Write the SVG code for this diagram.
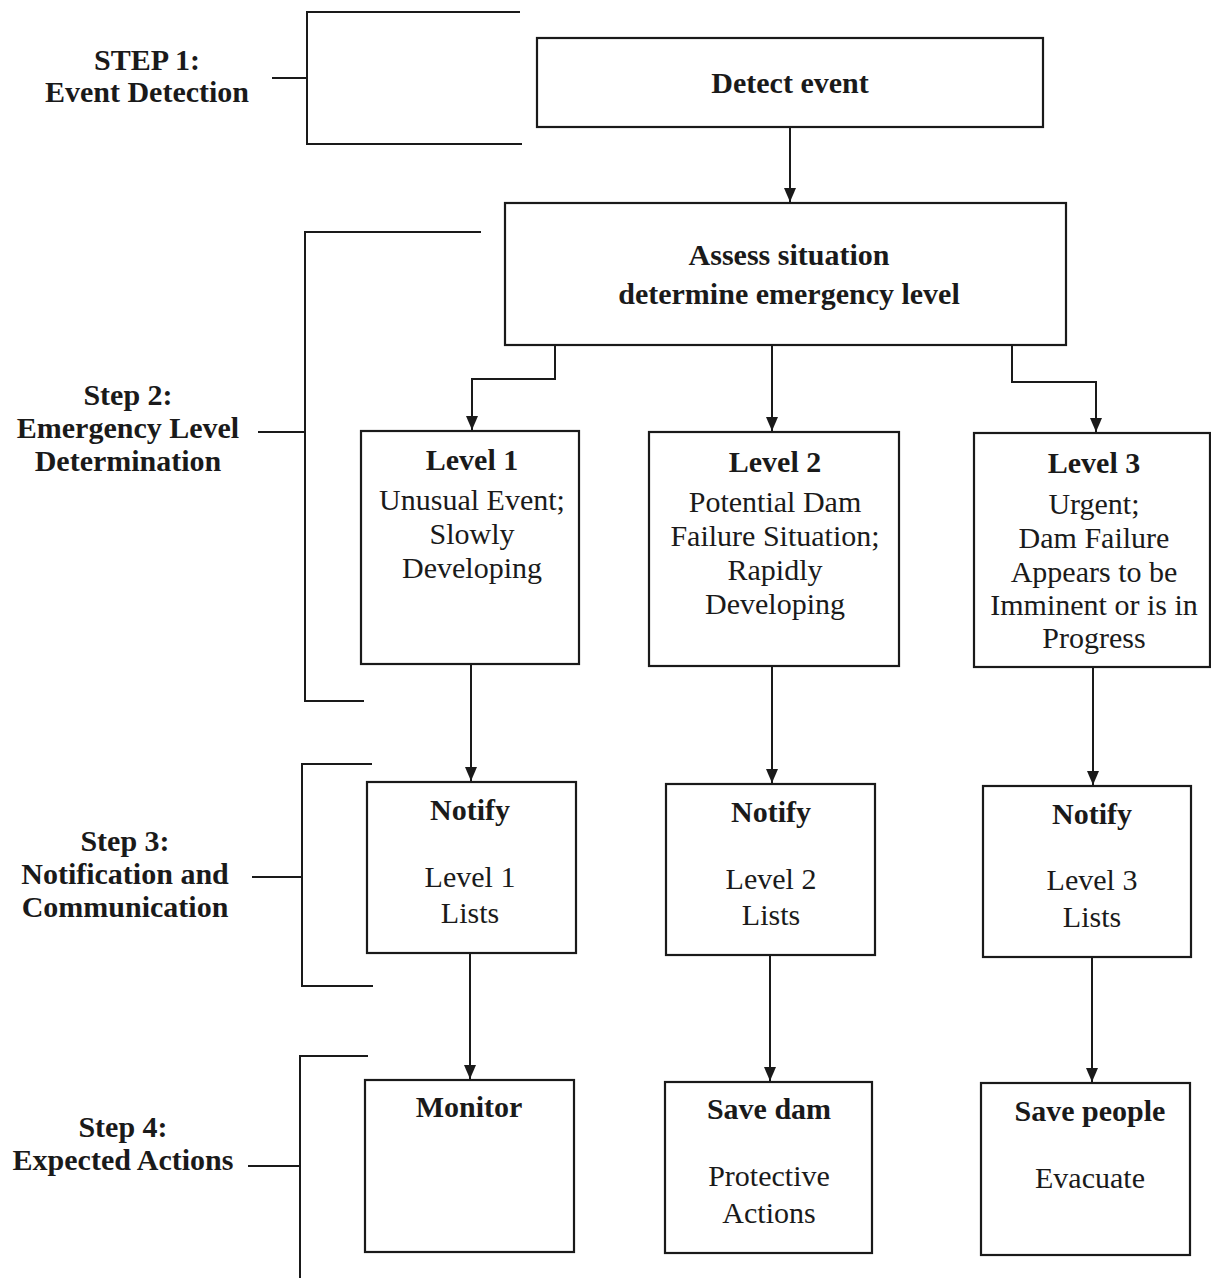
<svg xmlns="http://www.w3.org/2000/svg" width="1211" height="1278" viewBox="0 0 1211 1278">
<defs>
<marker id="arr" viewBox="0 0 14 12" refX="14" refY="6" markerWidth="14" markerHeight="12" markerUnits="userSpaceOnUse" orient="auto">
<path d="M0,0 L14,6 L0,12 z" fill="#1a1a1a"/>
</marker>
<style>
.box{fill:#fff;stroke:#1a1a1a;stroke-width:2.2}
.ln{fill:none;stroke:#1a1a1a;stroke-width:2}
.b{font-family:"Liberation Serif","Times New Roman",serif;font-weight:bold;font-size:30px;fill:#1a1a1a;text-anchor:middle}
.r{font-family:"Liberation Serif","Times New Roman",serif;font-size:30px;fill:#1a1a1a;text-anchor:middle}
</style>
</defs>
<rect width="1211" height="1278" fill="#fff"/>

<g id="step1">
<path class="ln" d="M520,12 H307 V144 H522 M272,78 H307"/>
<text class="b" x="147" y="70">STEP 1:</text>
<text class="b" x="147" y="102">Event Detection</text>
</g>
<g id="step2">
<path class="ln" d="M481,232 H305 V701 H364 M258,432 H305"/>
<text class="b" x="128" y="405">Step 2:</text>
<text class="b" x="128" y="438">Emergency Level</text>
<text class="b" x="128" y="471">Determination</text>
</g>
<g id="step3">
<path class="ln" d="M372,764 H302 V986 H373 M252,877 H302"/>
<text class="b" x="125" y="851">Step 3:</text>
<text class="b" x="125" y="884">Notification and</text>
<text class="b" x="125" y="917">Communication</text>
</g>
<g id="step4">
<path class="ln" d="M368,1056 H300 V1278 M248,1166 H300"/>
<text class="b" x="123" y="1137">Step 4:</text>
<text class="b" x="123" y="1170">Expected Actions</text>
</g>

<g id="connectors">
<path class="ln" d="M790,127 V202" marker-end="url(#arr)"/>
<path class="ln" d="M555,345 V379 H472 V430" marker-end="url(#arr)"/>
<path class="ln" d="M772,345 V431" marker-end="url(#arr)"/>
<path class="ln" d="M1012,345 V382 H1096 V432" marker-end="url(#arr)"/>
<path class="ln" d="M471,664 V781" marker-end="url(#arr)"/>
<path class="ln" d="M772,666 V783" marker-end="url(#arr)"/>
<path class="ln" d="M1093,667 V785" marker-end="url(#arr)"/>
<path class="ln" d="M470,953 V1079" marker-end="url(#arr)"/>
<path class="ln" d="M770,955 V1081" marker-end="url(#arr)"/>
<path class="ln" d="M1092,957 V1082" marker-end="url(#arr)"/>
</g>

<g id="detect">
<rect class="box" x="537" y="38" width="506" height="89"/>
<text class="b" x="790" y="93">Detect event</text>
</g>
<g id="assess">
<rect class="box" x="505" y="203" width="561" height="142"/>
<text class="b" x="789" y="265">Assess situation</text>
<text class="b" x="789" y="304">determine emergency level</text>
</g>
<g id="level1">
<rect class="box" x="361" y="431" width="218" height="233"/>
<text class="b" x="472" y="470">Level 1</text>
<text class="r" x="472" y="510">Unusual Event;</text>
<text class="r" x="472" y="544">Slowly</text>
<text class="r" x="472" y="578">Developing</text>
</g>
<g id="level2">
<rect class="box" x="649" y="432" width="250" height="234"/>
<text class="b" x="775" y="472">Level 2</text>
<text class="r" x="775" y="512">Potential Dam</text>
<text class="r" x="775" y="546">Failure Situation;</text>
<text class="r" x="775" y="580">Rapidly</text>
<text class="r" x="775" y="614">Developing</text>
</g>
<g id="level3">
<rect class="box" x="974" y="433" width="236" height="234"/>
<text class="b" x="1094" y="473">Level 3</text>
<text class="r" x="1094" y="514">Urgent;</text>
<text class="r" x="1094" y="548">Dam Failure</text>
<text class="r" x="1094" y="582">Appears to be</text>
<text class="r" x="1094" y="615">Imminent or is in</text>
<text class="r" x="1094" y="648">Progress</text>
</g>
<g id="notify1">
<rect class="box" x="367" y="782" width="209" height="171"/>
<text class="b" x="470" y="820">Notify</text>
<text class="r" x="470" y="887">Level 1</text>
<text class="r" x="470" y="923">Lists</text>
</g>
<g id="notify2">
<rect class="box" x="666" y="784" width="209" height="171"/>
<text class="b" x="771" y="822">Notify</text>
<text class="r" x="771" y="889">Level 2</text>
<text class="r" x="771" y="925">Lists</text>
</g>
<g id="notify3">
<rect class="box" x="983" y="786" width="208" height="171"/>
<text class="b" x="1092" y="824">Notify</text>
<text class="r" x="1092" y="890">Level 3</text>
<text class="r" x="1092" y="927">Lists</text>
</g>
<g id="monitor">
<rect class="box" x="365" y="1080" width="209" height="172"/>
<text class="b" x="469" y="1117">Monitor</text>
</g>
<g id="savedam">
<rect class="box" x="665" y="1082" width="207" height="171"/>
<text class="b" x="769" y="1119">Save dam</text>
<text class="r" x="769" y="1186">Protective</text>
<text class="r" x="769" y="1223">Actions</text>
</g>
<g id="savepeople">
<rect class="box" x="981" y="1083" width="209" height="172"/>
<text class="b" x="1090" y="1121">Save people</text>
<text class="r" x="1090" y="1188">Evacuate</text>
</g>
</svg>
